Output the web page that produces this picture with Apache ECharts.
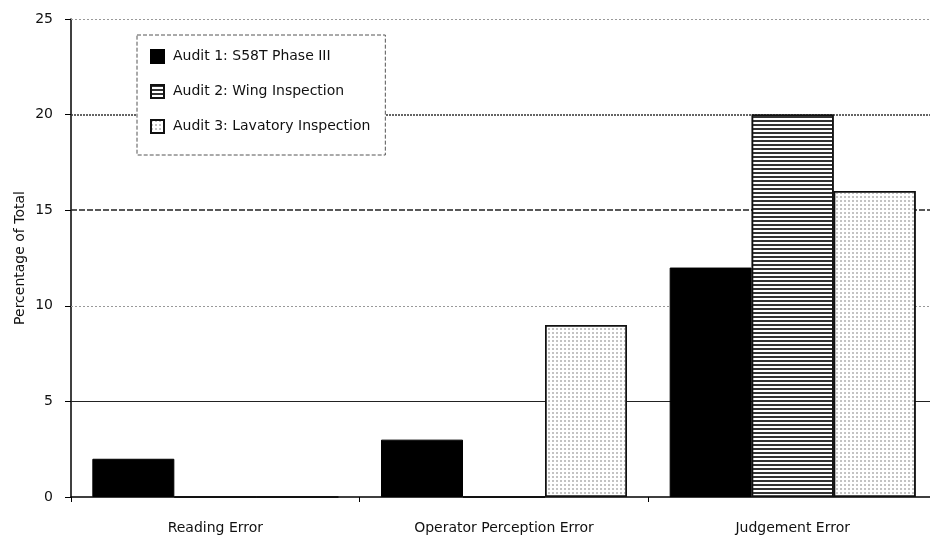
<!DOCTYPE html>
<html>
<head>
<meta charset="utf-8">
<script src="https://cdn.jsdelivr.net/npm/echarts@6/dist/echarts.min.js"></script>
<style>html,body{margin:0;padding:0;background:#fff;overflow:hidden;}#c{width:937px;height:538px;}</style>
</head>
<body>
<div id="c"></div>
<script>
const categories = ['Reading Error', 'Operator Perception Error', 'Judgement Error'];
const seriesNames = ['Audit 1: S58T Phase III', 'Audit 2: Wing Inspection', 'Audit 3: Lavatory Inspection'];
const audit1 = [2, 3, 12];
const audit2 = [0, 0, 20];
const audit3 = [0, 9, 16];
const yTicks = [0, 5, 10, 15, 20, 25];
const yAxisName = 'Percentage of Total';

const FONT = 'DejaVu Sans';
const gridStyles = {
  5: {type: 'solid', color: '#222', width: 1},
  10: {type: [2, 2], color: '#999', width: 1},
  15: {type: [6, 2], color: '#222', width: 1.5},
  20: {type: [2, 1], color: '#333', width: 1.5},
  25: {type: [2, 2], color: '#999', width: 1}
};

const chart = echarts.init(document.getElementById('c'));
chart.setOption({
  animation: false,
  backgroundColor: '#fff',
  textStyle: {fontFamily: FONT},
  grid: {left: 71, right: 0, top: 19, bottom: 41},
  legend: {
    orient: 'vertical',
    left: 137, top: 35,
    padding: [14, 15, 21, 13],
    itemGap: 20,
    itemWidth: 13, itemHeight: 13,
    icon: 'rect',
    backgroundColor: '#fff',
    borderColor: '#555', borderWidth: 1, borderType: 'dashed',
    textStyle: {fontFamily: FONT, fontSize: 14, color: '#111', padding: [0, 0, 0, 4]},
    data: seriesNames
  },
  xAxis: {
    type: 'category',
    data: categories,
    axisLine: {lineStyle: {color: '#000', width: 1.5}},
    axisTick: {show: true, length: 5, lineStyle: {color: '#000'}},
    axisLabel: {fontFamily: FONT, fontSize: 14, color: '#111', margin: 24}
  },
  yAxis: {
    type: 'value',
    min: yTicks[0], max: yTicks[yTicks.length - 1], interval: 5,
    name: yAxisName,
    nameLocation: 'middle',
    nameGap: 44,
    nameMoveOverlap: false,
    nameTextStyle: {fontFamily: FONT, fontSize: 14, color: '#111'},
    axisLine: {show: true, lineStyle: {color: '#000', width: 1.5}},
    axisTick: {show: true, length: 6, lineStyle: {color: '#000'}},
    axisLabel: {fontFamily: FONT, fontSize: 14, color: '#111', margin: 18},
    splitLine: {show: false}
  },
  series: [
    {
      name: seriesNames[0], type: 'bar', data: audit1,
      barWidth: 82, barGap: '0%',
      itemStyle: {color: '#000', borderColor: '#000', borderWidth: 1},
      markLine: {
        silent: true, symbol: 'none', z: 1,
        label: {show: false},
        data: yTicks.filter(v => v > 0).map(v => ({yAxis: v, lineStyle: gridStyles[v]}))
      }
    },
    {
      name: seriesNames[1], type: 'bar', data: audit2,
      barWidth: 82, barGap: '0%',
      itemStyle: {
        color: '#fff', borderColor: '#111', borderWidth: 1.5,
        decal: {symbol: 'rect', symbolSize: 1, dashArrayX: [4, 0], dashArrayY: [1.5, 1.5], color: '#333', rotation: 0}
      }
    },
    {
      name: seriesNames[2], type: 'bar', data: audit3,
      barWidth: 82, barGap: '0%',
      itemStyle: {
        color: '#fff', borderColor: '#111', borderWidth: 1.5,
        decal: {symbol: 'circle', symbolSize: 0.8, dashArrayX: [2, 2], dashArrayY: [2, 2], color: '#777', rotation: 0}
      }
    }
  ]
});
</script>
</body>
</html>
